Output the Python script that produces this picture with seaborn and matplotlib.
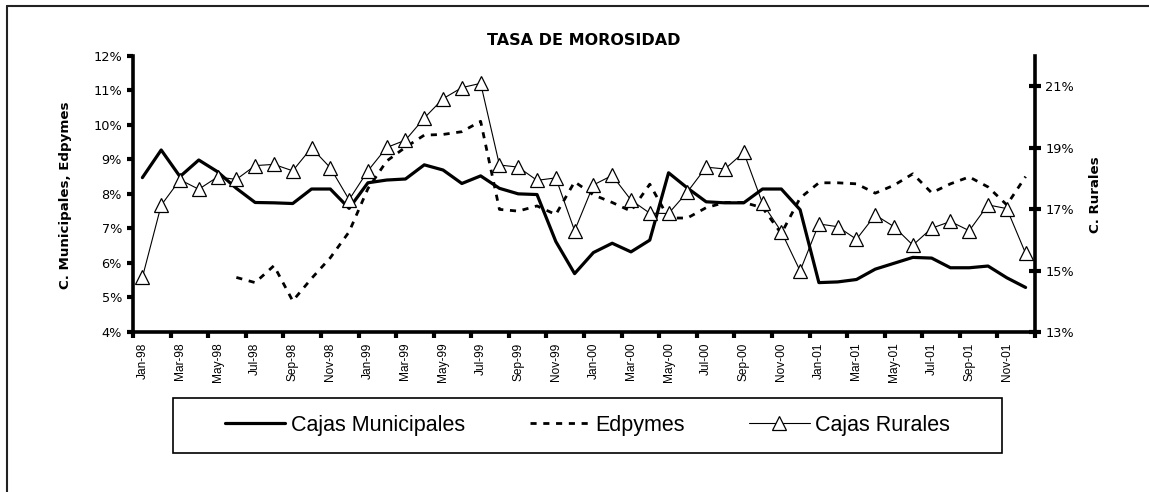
import numpy as np
import pandas as pd
import seaborn as sns
import matplotlib
matplotlib.use("Agg")
import matplotlib.pyplot as plt
from matplotlib import font_manager
from matplotlib.patches import Rectangle
from matplotlib.lines import Line2D

# ---------------- data ----------------
month_abbr = ["Jan", "Feb", "Mar", "Apr", "May", "Jun",
              "Jul", "Aug", "Sep", "Oct", "Nov", "Dec"]
years = ["98", "99", "00", "01"]
months = [f"{m}-{y}" for y in years for m in month_abbr]

cajas_municipales = [8.47, 9.27, 8.50, 8.98, 8.64, 8.16, 7.75, 7.74, 7.72, 8.14,
                     8.14, 7.58, 8.32, 8.40, 8.43, 8.84, 8.69, 8.30, 8.52, 8.16,
                     8.00, 7.98, 6.62, 5.69, 6.30, 6.57, 6.32, 6.66, 8.61, 8.17,
                     7.77, 7.74, 7.74, 8.14, 8.14, 7.54, 5.43, 5.45, 5.52, 5.82,
                     5.99, 6.16, 6.14, 5.86, 5.86, 5.91, 5.57, 5.29]

edpymes = [np.nan, np.nan, np.nan, np.nan, np.nan, 5.58, 5.43, 5.92, 4.90, 5.55,
           6.15, 6.90, 8.15, 8.95, 9.35, 9.70, 9.72, 9.80, 10.10, 7.55,
           7.50, 7.65, 7.40, 8.35, 7.97, 7.75, 7.50, 8.28, 7.30, 7.30,
           7.60, 7.75, 7.75, 7.60, 6.85, 7.88, 8.32, 8.32, 8.29, 8.02,
           8.25, 8.58, 8.03, 8.29, 8.49, 8.20, 7.68, 8.50]

cajas_rurales = [14.78, 17.13, 17.96, 17.65, 18.05, 17.97, 18.42, 18.46, 18.25, 19.00,
                 18.35, 17.31, 18.25, 19.01, 19.25, 19.97, 20.60, 20.96, 21.10, 18.44,
                 18.37, 17.94, 18.02, 16.30, 17.79, 18.10, 17.30, 16.87, 16.86, 17.56,
                 18.37, 18.31, 18.85, 17.19, 16.27, 14.99, 16.52, 16.43, 16.02, 16.81,
                 16.43, 15.83, 16.38, 16.60, 16.30, 17.14, 17.02, 15.56]

left_ticks = [4, 5, 6, 7, 8, 9, 10, 11, 12]
right_ticks = [13, 15, 17, 19, 21]

title = "TASA DE MOROSIDAD"
left_label = "C. Municipales, Edpymes"
right_label = "C. Rurales"
series_names = ["Cajas Municipales", "Edpymes", "Cajas Rurales"]

df = pd.DataFrame({
    "idx": np.arange(len(months)),
    "month": months,
    "cm": cajas_municipales,
    "ed": edpymes,
    "cr": cajas_rurales,
})

# ---------------- style ----------------
sns.set_theme(style="white")
plt.rcParams["font.family"] = ["DejaVu Sans"]
plt.rcParams["text.color"] = "black"
plt.rcParams["axes.labelcolor"] = "black"
plt.rcParams["xtick.color"] = "black"
plt.rcParams["ytick.color"] = "black"


def has_font(name):
    try:
        font_manager.findfont(font_manager.FontProperties(family=name),
                              fallback_to_default=False)
        return True
    except Exception:
        return False


narrow = "Liberation Sans Narrow" if has_font("Liberation Sans Narrow") else "Liberation Sans"
arial = "Liberation Sans" if has_font("Liberation Sans") else "DejaVu Sans"

W, H = 1149, 492
fig = plt.figure(figsize=(W / 100, H / 100), dpi=100)
fig.patch.set_facecolor("white")

L, R, T, B = 133, 1035, 55.7, 332
ax = fig.add_axes([L / W, 1 - B / H, (R - L) / W, (B - T) / H])
ax2 = ax.twinx()

# lines
sns.lineplot(data=df, x="idx", y="cm", ax=ax, color="black", linewidth=2.3,
             label=series_names[0], legend=False)
sns.lineplot(data=df.dropna(subset=["ed"]), x="idx", y="ed", ax=ax, color="black",
             linewidth=2.0, linestyle=(0, (2.2, 2.4)), label=series_names[1],
             legend=False)
sns.lineplot(data=df, x="idx", y="cr", ax=ax2, color="black", linewidth=0.8,
             marker="^", markersize=10, markerfacecolor="white",
             markeredgecolor="black", markeredgewidth=0.9,
             label=series_names[2], legend=False)

for a in (ax, ax2):
    if a.get_legend() is not None:
        a.get_legend().remove()
    a.set_xlabel("")
    a.grid(False)
    a.set_facecolor("none")

# x axis
n = len(months)
ax.set_xlim(-0.5, n - 0.5)
ax.set_xticks(np.arange(0, n, 2))
ax.set_xticklabels(months[::2], rotation=90, fontsize=8.6, family=narrow,
                   color="black")
ax.set_xticks(np.arange(-0.5, n, 2), minor=True)
ax.tick_params(axis="x", which="major", length=0, pad=7.5, colors="black")
ax.tick_params(axis="x", which="minor", length=4, width=3, direction="out",
               color="black", bottom=True)

# left y axis
ax.set_ylim(4, 12)
ax.set_yticks(left_ticks)
ax.set_yticklabels([f"{v}%" for v in left_ticks], fontsize=9.3, color="black")
ax.tick_params(axis="y", which="major", length=4, width=3, direction="out",
               pad=4, colors="black", left=True)

# right y axis
ax2.set_ylim(13, 22)
ax2.set_yticks(right_ticks)
ax2.set_yticklabels([f"{v}%" for v in right_ticks], fontsize=9.3, color="black")
ax2.tick_params(axis="y", which="major", length=9, width=3, direction="inout",
                pad=3, colors="black", right=True)

# spines
for a in (ax, ax2):
    for s in a.spines.values():
        s.set_visible(False)
ax.spines["left"].set_visible(True)
ax.spines["bottom"].set_visible(True)
ax2.spines["right"].set_visible(True)
for s in (ax.spines["left"], ax.spines["bottom"], ax2.spines["right"]):
    s.set_linewidth(2.6)
    s.set_color("black")

# labels
ax.set_ylabel(left_label, fontsize=9.6, fontweight="bold", va="center",
              color="black")
ax.yaxis.set_label_coords((65.5 - L) / (R - L), (B - 195) / (B - T))
ax2.set_ylabel(right_label, fontsize=9.6, fontweight="bold", va="center",
               rotation=90, color="black")
ax2.yaxis.set_label_coords((1095.5 - L) / (R - L), (B - 195) / (B - T))

ax.set_title(title, fontsize=11.5, fontweight="bold", pad=8, color="black")

# legend
handles = [ax.get_lines()[0], ax.get_lines()[1], ax2.get_lines()[0]]
leg = fig.legend(handles, series_names, loc="center",
                 bbox_to_anchor=((173 + 1002) / 2 / W, 1 - 425.5 / H),
                 ncol=3, frameon=False, prop={"family": arial, "size": 15.5},
                 handlelength=2.8, handletextpad=0.25, columnspacing=3.0)
for t in leg.get_texts():
    t.set_color("black")

# legend frame
fig.patches.append(Rectangle((173 / W, 1 - 453 / H), (1002 - 173) / W, 55 / H,
                             transform=fig.transFigure, fill=False,
                             edgecolor="black", linewidth=1.2))
# outer chart frame (top and left edges visible)
fig.add_artist(Line2D([7 / W, 1.0], [1 - 5.5 / H, 1 - 5.5 / H],
                      transform=fig.transFigure, color="#222222", linewidth=1.5))
fig.add_artist(Line2D([7 / W, 7 / W], [0.0, 1 - 5.5 / H],
                      transform=fig.transFigure, color="#222222", linewidth=1.5))

fig.savefig("out.png", dpi=100, facecolor="white")
